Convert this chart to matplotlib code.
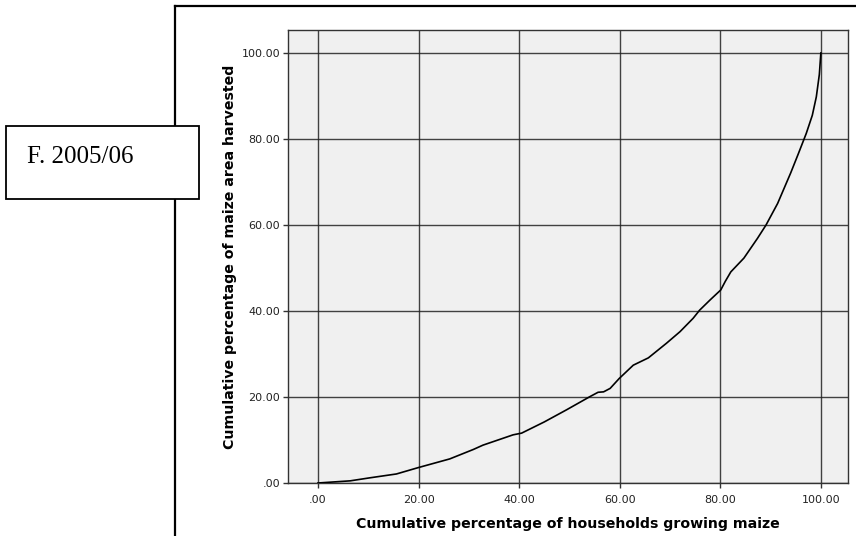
import matplotlib
matplotlib.use("Agg")
import matplotlib.pyplot as plt
from matplotlib.lines import Line2D
from matplotlib.patches import Rectangle

# cumulative share of households (x) vs cumulative share of maize area (y)
households_pct = [0, 6.4, 10.3, 15.6, 20, 26.2, 30.9, 32.8, 38.8, 40.5, 45,
                  49.4, 54.1, 55.7, 56.8, 58.1, 59.9, 62.7, 65.7, 69.3, 72,
                  74.6, 75.9, 78, 80.1, 81.0, 82.1, 84.7, 87.4, 89.1, 91.4,
                  94.0, 95.5, 97.1, 98.3, 99.1, 99.7, 100]
area_pct = [0, 0.5, 1.2, 2.1, 3.6, 5.6, 7.8, 8.8, 11.2, 11.6, 14.2,
            17.0, 20.1, 21.1, 21.2, 22.0, 24.3, 27.4, 29.1, 32.5, 35.2,
            38.3, 40.2, 42.6, 44.9, 46.9, 49.1, 52.3, 56.9, 60.0, 65.0,
            72.1, 76.5, 81.3, 85.5, 89.8, 95.0, 100]

ticks = [0, 20, 40, 60, 80, 100]
tick_labels = [".00", "20.00", "40.00", "60.00", "80.00", "100.00"]
panel_label = "F. 2005/06"

W, H = 856, 536
fig = plt.figure(figsize=(W / 100, H / 100), dpi=100)

# plot area in pixel terms
left, right, top, bottom = 288, 848, 30, 483
ax = fig.add_axes([left / W, 1 - bottom / H, (right - left) / W, (bottom - top) / H])
ax.set_facecolor("#f0f0f0")

ax.plot(households_pct, area_pct, color="black", lw=1.2, zorder=3)

ax.set_xlim(-5.96, 105.4)
ax.set_ylim(0, 105.35)
ax.set_xticks(ticks)
ax.set_xticklabels(tick_labels)
ax.set_yticks(ticks)
ax.set_yticklabels(tick_labels)
ax.tick_params(direction="out", length=3.6, width=1, color="#333333",
               labelsize=8, labelcolor="#222222", pad=2)
ax.tick_params(axis="x", pad=5)
ax.grid(True, color="#222222", lw=1, alpha=0.85)
ax.set_axisbelow(True)
for sp in ax.spines.values():
    sp.set_color("#333333")
    sp.set_linewidth(1)

ax.set_xlabel("Cumulative percentage of households growing maize",
              fontsize=10.2, fontweight="bold", labelpad=9)
ax.set_ylabel("Cumulative percentage of maize area harvested",
              fontsize=10.2, fontweight="bold", labelpad=3)

# outer frame (open to right and bottom)
fx, fy = 175 / W, 1 - 6 / H
fig.add_artist(Line2D([fx, fx], [0, fy], transform=fig.transFigure,
                      color="black", lw=1.6))
fig.add_artist(Line2D([fx, 1], [fy, fy], transform=fig.transFigure,
                      color="black", lw=1.6))

# label box
bx0, by0, bx1, by1 = 6, 126, 199, 199
fig.add_artist(Rectangle((bx0 / W, 1 - by1 / H), (bx1 - bx0) / W, (by1 - by0) / H,
                         transform=fig.transFigure, facecolor="white",
                         edgecolor="black", lw=1.3, zorder=5))
fig.text(27 / W, 1 - 163 / H, panel_label, family="Liberation Serif",
         fontsize=18, ha="left", va="baseline", zorder=6)

fig.savefig("out.png", dpi=100)
